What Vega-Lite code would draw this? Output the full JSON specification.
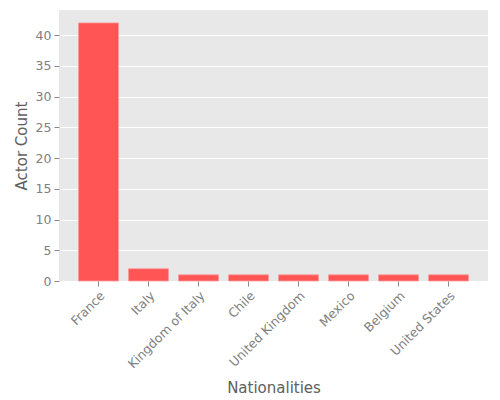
{
  "$schema": "https://vega.github.io/schema/vega-lite/v6.json",
  "autosize": {"type": "none"},
  "padding": {"left": 59, "top": 10, "right": 12, "bottom": 119},
  "width": 429,
  "height": 271,
  "background": "white",
  "data": {
    "values": [
      {"nationality": "France", "count": 42},
      {"nationality": "Italy", "count": 2},
      {"nationality": "Kingdom of Italy", "count": 1},
      {"nationality": "Chile", "count": 1},
      {"nationality": "United Kingdom", "count": 1},
      {"nationality": "Mexico", "count": 1},
      {"nationality": "Belgium", "count": 1},
      {"nationality": "United States", "count": 1}
    ]
  },
  "mark": {"type": "bar", "color": "#ff5555", "stroke": "#ff9a9a", "strokeWidth": 0.8},
  "encoding": {
    "x": {
      "field": "nationality",
      "type": "nominal",
      "sort": null,
      "title": "Nationalities",
      "scale": {"paddingInner": 0.2, "paddingOuter": 0.39},
      "axis": {"labelAngle": -45, "labelAlign": "right", "labelBaseline": "top", "grid": false, "titlePadding": 10}
    },
    "y": {
      "field": "count",
      "type": "quantitative",
      "title": "Actor Count",
      "scale": {"domain": [0, 44.1], "nice": false},
      "axis": {"values": [0, 5, 10, 15, 20, 25, 30, 35, 40], "grid": true, "titlePadding": 6}
    }
  },
  "config": {
    "view": {"fill": "#e8e8e8", "stroke": null},
    "axis": {
      "domain": false,
      "gridColor": "white",
      "gridWidth": 1,
      "tickColor": "#888888",
      "tickSize": 5,
      "labelFont": "DejaVu Sans",
      "labelFontSize": 12.5,
      "labelColor": "#808080",
      "labelPadding": 3,
      "titleFont": "DejaVu Sans",
      "titleFontSize": 15,
      "titleFontWeight": 500,
      "titleColor": "#606060"
    }
  }
}
